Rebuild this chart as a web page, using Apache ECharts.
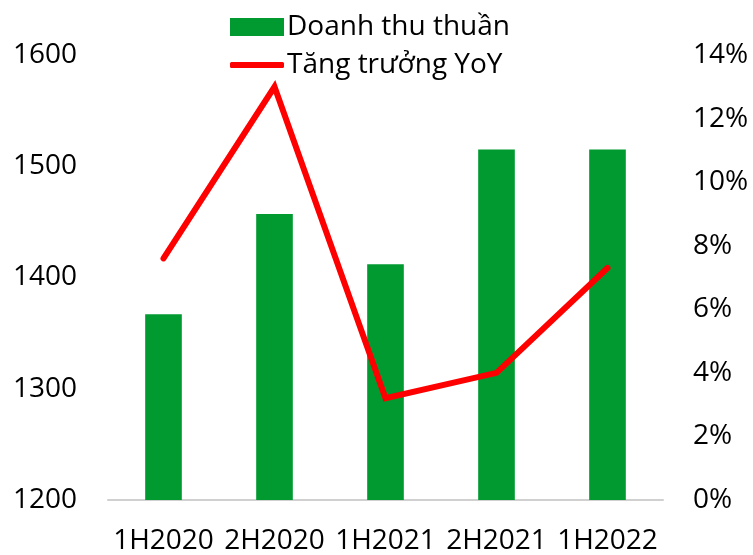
<!DOCTYPE html>
<html>
<head>
<meta charset="utf-8">
<script src="https://cdn.jsdelivr.net/npm/echarts@6/dist/echarts.min.js"></script>
<style>
  html, body { margin: 0; padding: 0; background: #fff; }
  #chart { width: 753px; height: 555px; }
</style>
</head>
<body>
<div id="chart"></div>
<script>
// Half-year periods
const categories = ['1H2020', '2H2020', '1H2021', '2H2021', '1H2022'];
// Net revenue (left axis)
const revenue = [1367, 1457, 1412, 1515, 1515];
// Year-over-year growth, % (right axis)
const growthYoY = [7.6, 13.0, 3.2, 4.0, 7.3];

const FONT = '"Open Sans", sans-serif';
const chart = echarts.init(document.getElementById('chart'), null, { renderer: 'canvas' });

chart.setOption({
  animation: false,
  backgroundColor: '#ffffff',
  textStyle: { fontFamily: FONT },
  legend: [
    {
      data: [{ name: 'Doanh thu thuần', icon: 'rect' }],
      left: 225, top: 8,
      itemWidth: 54, itemHeight: 18, itemGap: 0,
      textStyle: { fontFamily: FONT, fontSize: 28, color: '#000', padding: [0, 0, 0, -2] }
    },
    {
      data: [{ name: 'Tăng trưởng YoY', icon: 'roundRect', itemStyle: { color: '#ff0000' } }],
      left: 225, top: 46,
      itemWidth: 54, itemHeight: 6, itemGap: 0,
      textStyle: { fontFamily: FONT, fontSize: 28, color: '#000', padding: [0, 0, 0, -2] }
    }
  ],
  grid: { left: 108, right: 90, top: 55, bottom: 54, containLabel: false },
  xAxis: {
    type: 'category',
    data: categories,
    axisLine: { lineStyle: { color: '#d0d0d0', width: 2 } },
    axisTick: { show: false },
    axisLabel: { color: '#000', fontSize: 28, fontFamily: FONT, margin: 27,
      interval: 0, hideOverlap: false }
  },
  yAxis: [
    {
      type: 'value', min: 1200, max: 1600, interval: 100,
      axisLine: { show: false }, axisTick: { show: false },
      splitLine: { show: false },
      axisLabel: { color: '#000', fontSize: 28, fontFamily: FONT, margin: 31,
        formatter: v => String(v) }
    },
    {
      type: 'value', min: 0, max: 14, interval: 2,
      axisLine: { show: false }, axisTick: { show: false },
      splitLine: { show: false },
      axisLabel: { color: '#000', fontSize: 28, fontFamily: FONT, margin: 30,
        formatter: v => v + '%' }
    }
  ],
  series: [
    {
      name: 'Doanh thu thuần',
      type: 'bar',
      data: revenue,
      barWidth: '33%',
      itemStyle: { color: '#009a30' }
    },
    {
      name: 'Tăng trưởng YoY',
      type: 'line',
      yAxisIndex: 1,
      data: growthYoY,
      symbol: 'none',
      lineStyle: { color: '#ff0000', width: 6, cap: 'round', join: 'miter' },
      itemStyle: { color: '#ff0000' }
    }
  ]
});
</script>
</body>
</html>
